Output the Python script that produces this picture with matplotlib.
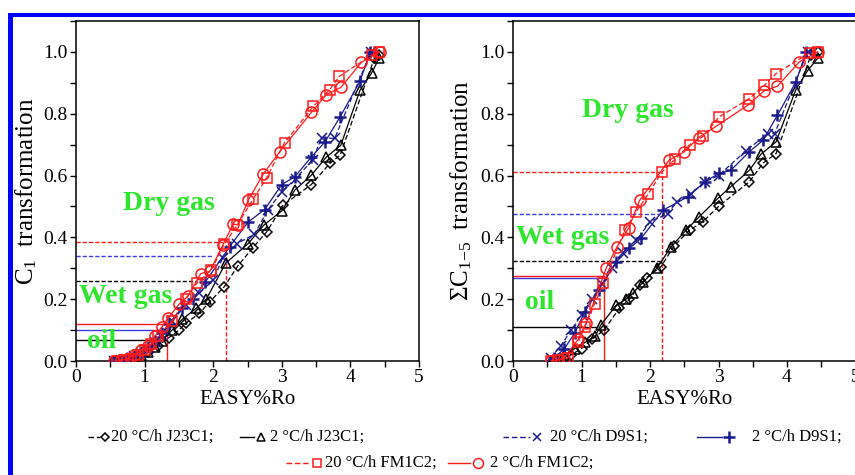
import matplotlib
matplotlib.use('Agg')
import matplotlib.pyplot as plt
from matplotlib.lines import Line2D
from matplotlib.patches import Rectangle
from matplotlib.ticker import MultipleLocator, FormatStrFormatter

######################################################
# Data: C1 transformation vs EASY%Ro
######################################################

c1_j23_20_ro = [0.55, 0.65, 0.75, 0.85, 0.95, 1.05, 1.2, 1.35, 1.5, 1.6, 1.8, 1.95, 2.16,
                2.36, 2.58, 2.78, 3.02, 3.43, 3.70, 3.85, 4.35, 4.42]
c1_j23_20_tr = [0, 0.002, 0.005, 0.01, 0.02, 0.03, 0.05, 0.075, 0.1, 0.122, 0.154, 0.192, 0.24,
                0.308, 0.367, 0.418, 0.504, 0.571, 0.639, 0.666, 0.98, 0.99]

c1_j23_2_ro = [0.55, 0.65, 0.75, 0.85, 0.95, 1.05, 1.15, 1.25, 1.4, 1.55, 1.75, 1.9, 2.18,
               2.51, 2.74, 3.0, 3.19, 3.43, 3.65, 3.86, 4.14, 4.31, 4.42]
c1_j23_2_tr = [0, 0.003, 0.006, 0.012, 0.02, 0.03, 0.045, 0.065, 0.1, 0.135, 0.17, 0.2, 0.316,
               0.38, 0.44, 0.486, 0.553, 0.601, 0.66, 0.698, 0.876, 0.932, 0.98]

c1_d9_20_ro = [0.55, 0.65, 0.75, 0.85, 0.95, 1.05, 1.15, 1.25, 1.4, 1.6, 1.8, 2.0, 2.14,
               2.35, 2.6, 2.8, 3.0, 3.2, 3.45, 3.58, 3.77, 4.3]
c1_d9_20_tr = [0, 0.003, 0.008, 0.015, 0.025, 0.04, 0.06, 0.085, 0.13, 0.18, 0.22, 0.262, 0.334,
               0.38, 0.41, 0.49, 0.547, 0.59, 0.65, 0.723, 0.72, 1.0]

c1_d9_2_ro = [0.55, 0.65, 0.75, 0.85, 0.95, 1.05, 1.15, 1.25, 1.35, 1.54, 1.7, 1.88, 2.24,
              2.51, 2.75, 3.0, 3.19, 3.43, 3.63, 3.85, 4.14, 4.29]
c1_d9_2_tr = [0, 0.004, 0.01, 0.02, 0.03, 0.045, 0.065, 0.09, 0.12, 0.17, 0.2, 0.254, 0.37,
              0.45, 0.49, 0.571, 0.596, 0.66, 0.709, 0.79, 0.905, 1.0]

c1_fm_20_ro = [0.6, 0.7, 0.8, 0.9, 1.0, 1.1, 1.2, 1.4, 1.6, 1.76, 1.97, 2.16, 2.35, 2.58,
               2.78, 3.04, 3.46, 3.70, 3.84, 4.32, 4.42]
c1_fm_20_tr = [0, 0.003, 0.008, 0.02, 0.035, 0.055, 0.08, 0.13, 0.2, 0.251, 0.294, 0.377, 0.44,
               0.523, 0.593, 0.706, 0.824, 0.878, 0.921, 0.991, 1.0]

c1_fm_2_ro = [0.55, 0.65, 0.75, 0.85, 0.95, 1.05, 1.15, 1.25, 1.34, 1.5, 1.63, 1.82, 1.95,
              2.14, 2.29, 2.36, 2.51, 2.73, 2.97, 3.43, 3.65, 3.86, 4.16, 4.43]
c1_fm_2_tr = [0, 0.003, 0.008, 0.02, 0.035, 0.05, 0.08, 0.11, 0.138, 0.183, 0.21, 0.283, 0.29,
              0.375, 0.443, 0.44, 0.52, 0.605, 0.677, 0.804, 0.862, 0.885, 0.966, 1.0]

# oil / wet gas / dry gas thresholds (order: J23C1, D9S1, FM1C2)
c1_oil_tr = [0.068, 0.10, 0.12]
c1_oil_ro = [1.22, 1.25, 1.29]
c1_wet_tr = [0.259, 0.34, 0.384]
c1_wet_ro = [1.76, 2.0, 2.15]
c1_oil_end = 1.33
c1_wet_end = 2.18

######################################################
# Data: sum C1-5 transformation vs EASY%Ro
######################################################

c15_j23_20_ro = [0.6, 0.7, 0.85, 1.0, 1.15, 1.33, 1.55, 1.7, 1.85, 1.95, 2.16, 2.35, 2.58,
                 2.77, 3.0, 3.45, 3.65, 3.84, 4.35, 4.45]
c15_j23_20_tr = [0, 0.005, 0.02, 0.04, 0.07, 0.1, 0.17, 0.2, 0.245, 0.27, 0.305, 0.372, 0.424,
                 0.45, 0.5, 0.58, 0.64, 0.671, 0.99, 1.0]

c15_j23_2_ro = [0.55, 0.65, 0.75, 0.9, 1.05, 1.2, 1.28, 1.51, 1.65, 1.75, 1.9, 2.1, 2.31,
                2.53, 2.72, 2.99, 3.18, 3.45, 3.62, 3.84, 4.13, 4.30, 4.45]
c15_j23_2_tr = [0, 0.005, 0.02, 0.04, 0.06, 0.08, 0.116, 0.181, 0.2, 0.22, 0.255, 0.3, 0.37,
                0.424, 0.467, 0.526, 0.564, 0.617, 0.669, 0.709, 0.878, 0.939, 0.98]

c15_d9_20_ro = [0.55, 0.7, 0.85, 1.0, 1.15, 1.3, 1.45, 1.6, 1.8, 2.0, 2.26, 2.39, 2.6, 2.8,
                3.0, 3.4, 3.72, 3.82, 4.3]
c15_d9_20_tr = [0.01, 0.05, 0.1, 0.15, 0.2, 0.25, 0.3, 0.35, 0.39, 0.45, 0.477, 0.515, 0.54,
                0.58, 0.6, 0.68, 0.736, 0.736, 1.0]

c15_d9_2_ro = [0.6, 0.75, 0.9, 1.05, 1.25, 1.51, 1.70, 1.87, 2.19, 2.55, 2.80, 3.01, 3.18,
               3.45, 3.65, 3.86, 4.13, 4.28]
c15_d9_2_tr = [0.01, 0.04, 0.09, 0.16, 0.23, 0.321, 0.364, 0.397, 0.488, 0.531, 0.58, 0.607,
               0.617, 0.677, 0.714, 0.795, 0.903, 1.0]

c15_fm_20_ro = [0.55, 0.65, 0.8, 0.95, 1.05, 1.19, 1.32, 1.63, 1.80, 1.97, 2.17, 2.36, 2.58,
                2.78, 3.01, 3.45, 3.67, 3.84, 4.33, 4.45]
c15_fm_20_tr = [0, 0.003, 0.01, 0.06, 0.11, 0.184, 0.251, 0.423, 0.483, 0.539, 0.61, 0.652,
                0.70, 0.727, 0.79, 0.849, 0.892, 0.93, 0.997, 1.0]

c15_fm_2_ro = [0.55, 0.65, 0.75, 0.95, 1.07, 1.36, 1.52, 1.69, 1.85, 2.28, 2.50, 2.71, 2.97,
               3.43, 3.66, 3.86, 4.18, 4.45]
c15_fm_2_tr = [0, 0.003, 0.01, 0.07, 0.124, 0.3, 0.37, 0.431, 0.52, 0.65, 0.677, 0.723, 0.76,
               0.828, 0.873, 0.889, 0.968, 1.0]

c15_oil_tr = [0.109, 0.268, 0.275]
c15_oil_ro = [1.22, 1.32, 1.32]
c15_wet_tr = [0.323, 0.475, 0.612]
c15_wet_ro = [2.15, 2.14, 2.17]
c15_oil_end = 1.33
c15_wet_end = 2.17

######################################################
# Styles
######################################################

RED = '#ff1a1a'
NAVY = '#1a1a8c'
BLUE = '#3a3ae6'
GREEN = '#2ee62e'
DASH = (0, (4, 2))
W, H = 855, 475

plt.rcParams['font.family'] = 'serif'
plt.rcParams['font.serif'] = ['Liberation Serif', 'DejaVu Serif']
plt.rcParams['mathtext.fontset'] = 'custom'
plt.rcParams['mathtext.rm'] = 'Liberation Serif'
plt.rcParams['mathtext.it'] = 'Liberation Serif:italic'

series_style = {
    'j23_20': dict(color='black', ls=DASH, marker='D', ms=5),
    'j23_2': dict(color='black', ls='-', marker='^', ms=6.5),
    'd9_20': dict(color=NAVY, ls=DASH, marker='x', ms=7),
    'd9_2': dict(color=NAVY, ls='-', marker='+', ms=9),
    'fm_20': dict(color=RED, ls=DASH, marker='s', ms=7),
    'fm_2': dict(color=RED, ls='-', marker='o', ms=8),
}
thresh_colors = ['black', BLUE, RED]


def px_box(x0, y0, x1, y1):
    # pixel box (top-left origin) -> figure fraction [l, b, w, h]
    return [x0 / W, 1 - y1 / H, (x1 - x0) / W, (y1 - y0) / H]


def draw_series(ax, ro, tr, key):
    st = series_style[key]
    mew = 1.8 if st['marker'] == '+' else 1.1
    ax.plot(ro, tr, color=st['color'], ls=st['ls'], lw=0.9, marker=st['marker'],
            ms=st['ms'], mfc='none', mec=st['color'], mew=mew, zorder=3)


def draw_thresholds(ax, oil_tr, oil_ro, wet_tr, wet_ro, oil_end, wet_end):
    for y, x, c in zip(oil_tr, oil_ro, thresh_colors):
        ax.plot([0, x], [y, y], color=c, lw=1.0, zorder=2)
    for y, x, c in zip(wet_tr, wet_ro, thresh_colors):
        ax.plot([0, x], [y, y], color=c, lw=1.0, ls=(0, (3, 1.5)), zorder=2)
    ax.plot([oil_end, oil_end], [0, oil_tr[-1]], color=RED, lw=1.0, zorder=2)
    ax.plot([wet_end, wet_end], [0, wet_tr[-1]], color=RED, lw=1.0, ls=(0, (3, 1.5)), zorder=2)


def setup_axes(ax, ylabel, label_x):
    ax.set_xlim(0, 5)
    ax.set_ylim(0, 1.1)
    ax.xaxis.set_major_locator(MultipleLocator(1))
    ax.xaxis.set_minor_locator(MultipleLocator(0.5))
    ax.yaxis.set_major_locator(MultipleLocator(0.2))
    ax.yaxis.set_minor_locator(MultipleLocator(0.1))
    ax.yaxis.set_major_formatter(FormatStrFormatter('%.1f'))
    ax.tick_params(which='both', direction='out', length=4, width=1, top=False, right=False)
    ax.tick_params(which='major', labelsize=14, pad=2)
    for s in ax.spines.values():
        s.set_linewidth(1.1)
    ax.set_xlabel('EASY%Ro', fontsize=15, labelpad=3)
    ax.set_ylabel(ylabel, fontsize=18)
    ax.yaxis.set_label_coords(label_x, 0.5)


def phase_labels(ax, pos):
    for txt, (x, y) in zip(['Dry gas', 'Wet gas', 'oil'], pos):
        ax.text(x, y, txt, color=GREEN, fontsize=20, fontweight='bold',
                ha='center', va='center', zorder=4)


fig = plt.figure(figsize=(W / 100, H / 100), dpi=100)

# left panel: C1
ax1 = fig.add_axes(px_box(76, 21, 419, 361))
draw_thresholds(ax1, c1_oil_tr, c1_oil_ro, c1_wet_tr, c1_wet_ro, c1_oil_end, c1_wet_end)
draw_series(ax1, c1_j23_20_ro, c1_j23_20_tr, 'j23_20')
draw_series(ax1, c1_j23_2_ro, c1_j23_2_tr, 'j23_2')
draw_series(ax1, c1_d9_20_ro, c1_d9_20_tr, 'd9_20')
draw_series(ax1, c1_d9_2_ro, c1_d9_2_tr, 'd9_2')
draw_series(ax1, c1_fm_20_ro, c1_fm_20_tr, 'fm_20')
draw_series(ax1, c1_fm_2_ro, c1_fm_2_tr, 'fm_2')
setup_axes(ax1, r'C$_1$  transformation', -0.108)
phase_labels(ax1, [(1.35, 0.51), (0.73, 0.21), (0.38, 0.063)])

# right panel: sum C1-5
ax2 = fig.add_axes(px_box(513, 21, 855.5, 361))
draw_thresholds(ax2, c15_oil_tr, c15_oil_ro, c15_wet_tr, c15_wet_ro, c15_oil_end, c15_wet_end)
draw_series(ax2, c15_j23_20_ro, c15_j23_20_tr, 'j23_20')
draw_series(ax2, c15_j23_2_ro, c15_j23_2_tr, 'j23_2')
draw_series(ax2, c15_d9_20_ro, c15_d9_20_tr, 'd9_20')
draw_series(ax2, c15_d9_2_ro, c15_d9_2_tr, 'd9_2')
draw_series(ax2, c15_fm_20_ro, c15_fm_20_tr, 'fm_20')
draw_series(ax2, c15_fm_2_ro, c15_fm_2_tr, 'fm_2')
setup_axes(ax2, r'$\Sigma$C$_{1\mathrm{-}5}$  transformation', -0.115)
phase_labels(ax2, [(1.67, 0.81), (0.72, 0.40), (0.39, 0.19)])

######################################################
# Legend rows drawn by hand below the panels
######################################################


def legend_entry(x_line0, x_line1, x_mark, x_text, y, key, label):
    st = series_style[key]
    fy = 1 - y / H
    fig.add_artist(Line2D([x_line0 / W, x_line1 / W], [fy, fy], color=st['color'],
                          ls=st['ls'], lw=1.0))
    mew = 1.8 if st['marker'] == '+' else 1.1
    fig.add_artist(Line2D([x_mark / W], [fy], marker=st['marker'], ms=st['ms'] * 0.9,
                          mfc='none', mec=st['color'], mew=mew, ls='none'))
    fig.text(x_text / W, fy, label, fontsize=12, ha='left', va='center')


legend_entry(88, 100, 105, 111, 437, 'j23_20', '20 °C/h J23C1;')
legend_entry(240, 254, 261, 270, 437, 'j23_2', '2 °C/h J23C1;')
legend_entry(503, 530, 537, 550, 437, 'd9_20', '20 °C/h D9S1;')
legend_entry(697, 722, 729, 752, 437, 'd9_2', '2 °C/h D9S1;')
legend_entry(286, 310, 317, 325, 463, 'fm_20', '20 °C/h FM1C2;')
legend_entry(448, 470, 478, 490, 463, 'fm_2', '2 °C/h FM1C2;')

# blue frame along the top and left edges
fig.add_artist(Rectangle((8 / W, 1 - 17 / H), (W - 8) / W, 4.5 / H, transform=fig.transFigure,
                         color='#0000ff', lw=0))
fig.add_artist(Rectangle((8 / W, 0), 5 / W, 1 - 13 / H, transform=fig.transFigure,
                         color='#0000ff', lw=0))

fig.savefig('out.png', dpi=100)
